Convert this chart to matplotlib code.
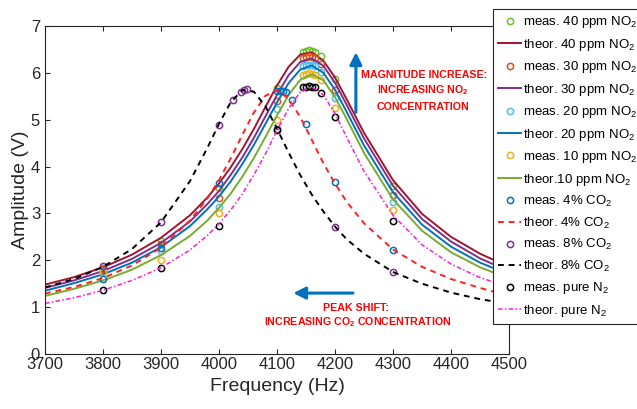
import matplotlib.pyplot as plt

plt.rcParams['font.family'] = ['Liberation Sans', 'DejaVu Sans']
plt.rcParams['mathtext.fontset'] = 'custom'
plt.rcParams['mathtext.rm'] = 'Liberation Sans'
plt.rcParams['mathtext.it'] = 'Liberation Sans:italic'
plt.rcParams['mathtext.bf'] = 'Liberation Sans:bold'

# frequency grid of the theoretical curves (Hz)
freq = [3700, 3750, 3800, 3850, 3900, 3950, 3980, 4000, 4020, 4040, 4060, 4080, 4100,
        4120, 4140, 4160, 4180, 4200, 4220, 4250, 4300, 4350, 4400, 4450, 4500]

theor_40 = [1.48, 1.64, 1.85, 2.12, 2.48, 2.96, 3.34, 3.64, 3.98, 4.37, 4.80, 5.27, 5.73,
            6.13, 6.39, 6.44, 6.26, 5.90, 5.44, 4.72, 3.71, 2.99, 2.50, 2.14, 1.86]
theor_30 = [1.41, 1.57, 1.77, 2.03, 2.37, 2.83, 3.20, 3.48, 3.82, 4.19, 4.61, 5.07, 5.53,
            5.95, 6.23, 6.31, 6.15, 5.79, 5.32, 4.60, 3.59, 2.88, 2.40, 2.04, 1.77]
theor_20 = [1.35, 1.51, 1.70, 1.95, 2.28, 2.73, 3.09, 3.36, 3.68, 4.05, 4.46, 4.91, 5.37,
            5.78, 6.07, 6.16, 6.00, 5.64, 5.17, 4.45, 3.45, 2.76, 2.29, 1.95, 1.70]
theor_10 = [1.24, 1.39, 1.57, 1.80, 2.11, 2.52, 2.85, 3.12, 3.42, 3.78, 4.18, 4.63, 5.09,
            5.53, 5.85, 5.97, 5.84, 5.48, 5.02, 4.29, 3.30, 2.63, 2.17, 1.85, 1.61]
theor_co2_4 = [1.29, 1.43, 1.62, 1.89, 2.27, 2.85, 3.32, 3.71, 4.17, 4.67, 5.15, 5.51, 5.63,
               5.45, 5.06, 4.57, 4.07, 3.64, 3.25, 2.79, 2.23, 1.86, 1.60, 1.41, 1.24]
theor_co2_8 = [1.42, 1.60, 1.86, 2.24, 2.81, 3.69, 4.40, 4.91, 5.37, 5.63, 5.60, 5.29, 4.81,
               4.30, 3.82, 3.40, 3.04, 2.72, 2.45, 2.14, 1.75, 1.50, 1.31, 1.17, 1.07]
theor_n2 = [1.08, 1.20, 1.36, 1.57, 1.84, 2.22, 2.53, 2.78, 3.07, 3.41, 3.82, 4.27, 4.77,
            5.24, 5.59, 5.70, 5.53, 5.13, 4.63, 3.90, 2.96, 2.33, 1.92, 1.63, 1.43]

# measured points
meas_f = [3800, 3900, 4000, 4100, 4145, 4150, 4155, 4160, 4165, 4175, 4200, 4300]
meas_40 = [1.84, 2.41, 3.55, 5.68, 6.45, 6.47, 6.48, 6.47, 6.45, 6.35, 5.86, 3.58]
meas_30 = [1.81, 2.35, 3.32, 5.41, 6.32, 6.34, 6.35, 6.34, 6.32, 6.18, 5.64, 3.40]
meas_20 = [1.77, 2.19, 3.14, 5.22, 6.14, 6.16, 6.17, 6.16, 6.14, 6.02, 5.46, 3.25]
meas_10 = [1.74, 2.01, 3.01, 5.00, 5.96, 5.98, 5.99, 5.98, 5.96, 5.84, 5.24, 3.08]
meas_n2 = [1.36, 1.83, 2.74, 4.78, 5.69, 5.70, 5.71, 5.70, 5.69, 5.57, 5.06, 2.84]

meas_co2_4_f = [3800, 3900, 4000, 4100, 4105, 4110, 4115, 4125, 4150, 4200, 4300]
meas_co2_4 = [1.60, 2.27, 3.66, 5.62, 5.62, 5.61, 5.60, 5.43, 4.90, 3.67, 2.22]

meas_co2_8_f = [3800, 3900, 4000, 4025, 4038, 4043, 4049, 4100, 4200, 4300]
meas_co2_8 = [1.88, 2.82, 4.88, 5.43, 5.59, 5.63, 5.65, 4.81, 2.71, 1.74]


def meas(ax, f, a, color, label):
    ax.plot(f, a, linestyle='none', marker='o', markersize=4.5, markerfacecolor='none',
            markeredgecolor=color, markeredgewidth=1.1, label=label)


def main():
    fig = plt.figure(figsize=(6.37, 4.09), dpi=100)
    ax = fig.add_axes([0.0706, 0.1345, 0.7285, 0.8019])

    lw = 1.4
    meas(ax, meas_f, meas_40, '#6DC12B', 'meas. 40 ppm NO$_2$')
    ax.plot(freq, theor_40, color='#A2142F', lw=lw, label='theor. 40 ppm NO$_2$')
    meas(ax, meas_f, meas_30, '#D95319', 'meas. 30 ppm NO$_2$')
    ax.plot(freq, theor_30, color='#7E2F8E', lw=lw, label='theor. 30 ppm NO$_2$')
    meas(ax, meas_f, meas_20, '#4DBEEE', 'meas. 20 ppm NO$_2$')
    ax.plot(freq, theor_20, color='#0072BD', lw=lw, label='theor. 20 ppm NO$_2$')
    meas(ax, meas_f, meas_10, '#EDB120', 'meas. 10 ppm NO$_2$')
    ax.plot(freq, theor_10, color='#77AC30', lw=lw, label='theor.10 ppm NO$_2$')
    meas(ax, meas_co2_4_f, meas_co2_4, '#0072BD', 'meas. 4% CO$_2$')
    ax.plot(freq, theor_co2_4, color='#FF2020', lw=lw, linestyle=(0, (3, 2.5)),
            label='theor. 4% CO$_2$')
    meas(ax, meas_co2_8_f, meas_co2_8, '#7E2F8E', 'meas. 8% CO$_2$')
    ax.plot(freq, theor_co2_8, color='black', lw=lw, linestyle=(0, (3, 2.5)),
            label='theor. 8% CO$_2$')
    meas(ax, meas_f, meas_n2, 'black', 'meas. pure N$_2$')
    ax.plot(freq, theor_n2, color='#FF1DCE', lw=1.1, linestyle=(0, (3, 1.5, 1, 1.5)),
            label='theor. pure N$_2$')

    ax.set_xlim(3700, 4500)
    ax.set_ylim(0, 7)
    ax.set_xticks(range(3700, 4501, 100))
    ax.set_yticks(range(0, 8))
    ax.tick_params(direction='in', length=3.5, width=0.8, labelsize=12, colors='#262626',
                   top=True, right=True)
    ax.tick_params(axis='x', pad=2.5)
    for s in ax.spines.values():
        s.set_color('#262626')
        s.set_linewidth(0.8)
    ax.set_xlabel('Frequency (Hz)', fontsize=14, color='#262626', labelpad=4)
    ax.set_ylabel('Amplitude (V)', fontsize=14, color='#262626', labelpad=1)

    # magnitude arrow and text
    ax.annotate('', xy=(4236, 6.44), xytext=(4236, 5.16),
                arrowprops=dict(arrowstyle='-|>,head_length=0.6,head_width=0.3',
                                color='#0072BD', lw=2.2, mutation_scale=12,
                                shrinkA=0, shrinkB=0))
    tkw = dict(color='red', fontweight='bold', fontsize=7.7, ha='center', va='center')
    ax.text(4353, 5.95, 'MAGNITUDE INCREASE:', **tkw)
    ax.text(4352, 5.64, r'INCREASING NO$_\mathbf{2}$', **tkw)
    ax.text(4352, 5.27, 'CONCENTRATION', **tkw)

    # peak shift arrow and text
    ax.annotate('', xy=(4128, 1.30), xytext=(4231, 1.30),
                arrowprops=dict(arrowstyle='-|>,head_length=0.6,head_width=0.3',
                                color='#0072BD', lw=2.2, mutation_scale=12,
                                shrinkA=0, shrinkB=0))
    ax.text(4236, 0.98, 'PEAK SHIFT:', **tkw)
    ax.text(4240, 0.68, r'INCREASING CO$_\mathbf{2}$ CONCENTRATION', **tkw)

    leg = ax.legend(loc='upper left', bbox_to_anchor=(493 / 637, 1 - 9 / 409),
                    bbox_transform=fig.transFigure, borderaxespad=0, fontsize=9.5,
                    frameon=True, fancybox=False, framealpha=1, edgecolor='#262626',
                    handlelength=1.75, handletextpad=0.15, labelspacing=0.49,
                    borderpad=0.4)
    leg.get_frame().set_linewidth(0.8)

    fig.savefig('out.png', dpi=100)


if __name__ == '__main__':
    main()
